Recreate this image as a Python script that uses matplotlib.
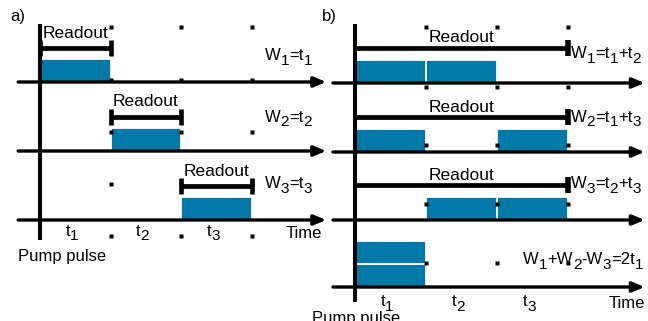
import re
import numpy as np
import matplotlib.pyplot as plt

plt.rcParams['font.family'] = ['Liberation Sans', 'DejaVu Sans']

# time segments after the pump pulse
seg_len = [1, 1, 1]
seg_labels = ['t_1', 't_2', 't_3']

# a) readout windows, each one segment
windows_a = [[0], [1], [2]]
readout_a = [(0, 1), (1, 2), (2, 3)]
labels_a = ['W_1=t_1', 'W_2=t_2', 'W_3=t_3']

# b) readout over the whole range, two segments filled
windows_b = [[0, 1], [0, 2], [1, 2]]
readout_b = [(0, 3), (0, 3), (0, 3)]
labels_b = ['W_1=t_1+t_2', 'W_2=t_1+t_3', 'W_3=t_2+t_3']
combo_label = 'W_1+W_2-W_3=2t_1'
combo_sign = [1, 1, -1]

edges = np.concatenate([[0], np.cumsum(seg_len)])
mids = (edges[:-1] + edges[1:]) / 2

# W1+W2-W3: how many times each segment is left over
counts = np.zeros(len(seg_len), dtype=int)
for w, s in zip(windows_b, combo_sign):
    for i in w:
        counts[i] += s

BLUE = '#0079a6'
FS = 12
BAR_H = 23

W, H = 648, 321
fig = plt.figure(figsize=(W / 100, H / 100), dpi=100)


def make_ax(x0, width, pump, unit):
    ax = fig.add_axes([x0 / W, 0, width / W, 1])
    ax.set_xlim((x0 - pump) / unit, (x0 + width - pump) / unit)
    ax.set_ylim(H, 0)
    ax.axis('off')
    return ax


def rich_text(ax, x, y, s, fs=FS):
    # "_x" -> x drawn a bit smaller and lowered, like in the figure
    parts = re.split(r'_(\w)', s)
    prev = ax.text(x, y, parts[0], fontsize=fs, ha='left', va='center')
    prev_dy = 0
    for i, p in enumerate(parts[1:], 1):
        if p == '':
            continue
        sub = i % 2 == 1
        dy = -3.4 if sub else 0
        prev = ax.annotate(p, xy=(1, 0), xycoords=prev, xytext=(0, dy - prev_dy),
                           textcoords='offset points', fontsize=fs * 0.92 if sub else fs,
                           ha='left', va='bottom', annotation_clip=False)
        prev_dy = dy


def time_axis(ax, y, x0, x1):
    ax.annotate('', xy=(x1, y), xytext=(x0, y), annotation_clip=False,
                arrowprops=dict(arrowstyle='-|>,head_length=0.6,head_width=0.25',
                                lw=2.4, color='k', shrinkA=0, shrinkB=0,
                                mutation_scale=12), zorder=4)


def bars(ax, segs, base, h=BAR_H):
    for i in segs:
        ax.bar(edges[i], -h, width=seg_len[i], bottom=base, align='edge',
               color=BLUE, edgecolor='white', linewidth=1.3, zorder=2)


def bracket(ax, x0, x1, y, left_lw=3.3, right_lw=3.3):
    ax.plot([x0, x1], [y, y], color='k', lw=3.4, solid_capstyle='butt', zorder=3)
    ax.plot([x0, x0], [y - 8, y + 8], color='k', lw=left_lw, solid_capstyle='butt', zorder=3)
    ax.plot([x1, x1], [y - 8, y + 8], color='k', lw=right_lw, solid_capstyle='butt', zorder=3)


def dots(ax, ys):
    for y in ys:
        ax.plot(edges[1:], [y] * (len(edges) - 1), 's', ms=2.5, color='k',
                mec='none', zorder=5)


# ---------------- panel a
ax = make_ax(0, 330, 40, 70.5)
base_a = [82, 151, 220]
wlab_y_a = [56, 117, 184]
dots(ax, [27, 80, 132, 184, 236])
for k in range(3):
    b = base_a[k]
    bars(ax, windows_a[k], b)
    r0, r1 = readout_a[k]
    bracket(ax, r0, r1, b - 34)
    ax.text((r0 + r1) / 2, b - 49, 'Readout', fontsize=12.5, ha='center', va='center')
    rich_text(ax, 3.19, wlab_y_a[k], labels_a[k])
    time_axis(ax, b, -0.31, 4.06)
ax.plot([0, 0], [24, 240], color='k', lw=2.9, solid_capstyle='butt', zorder=4)
for m, t in zip(mids, seg_labels):
    rich_text(ax, m - 0.14, 231, t)
ax.text(4.0, 233, 'Time', fontsize=FS, ha='right', va='center')
ax.text(-0.31, 256, 'Pump pulse', fontsize=FS, ha='left', va='center')

# ---------------- panel b
ax = make_ax(330, 318, 355, 71)
base_b = [83, 152, 220]
wlab_y_b = [54, 117, 184]
dots(ax, [27, 87, 145, 204, 263])
for k in range(3):
    b = base_b[k]
    bars(ax, windows_b[k], b)
    r0, r1 = readout_b[k]
    bracket(ax, r0, r1, b - 35, left_lw=1.5, right_lw=4)
    ax.text((r0 + r1) / 2, b - 45, 'Readout', fontsize=12.5, ha='center', va='center')
    rich_text(ax, 3.04, wlab_y_b[k], labels_b[k])
    time_axis(ax, b, -0.31, 4.08)

# combination row: stacked leftover segments
base_c = 287
for i, c in enumerate(counts):
    for j in range(max(c, 0)):
        bars(ax, [i], base_c - j * BAR_H, h=BAR_H)
rich_text(ax, 2.37, 260, combo_label)
time_axis(ax, base_c, -0.31, 4.08)
ax.plot([0, 0], [24, 302], color='k', lw=2.9, solid_capstyle='butt', zorder=4)
for m, t in zip(mids, seg_labels):
    rich_text(ax, m - 0.14, 302, t)
ax.text(4.08, 304, 'Time', fontsize=FS, ha='right', va='center')
ax.text(-0.6, 319, 'Pump pulse', fontsize=FS, ha='left', va='center')

fig.text(10 / W, 1 - 17 / H, 'a)', fontsize=FS, ha='left', va='center')
fig.text(322 / W, 1 - 17 / H, 'b)', fontsize=FS, ha='left', va='center')

fig.savefig('out.png', dpi=100)
